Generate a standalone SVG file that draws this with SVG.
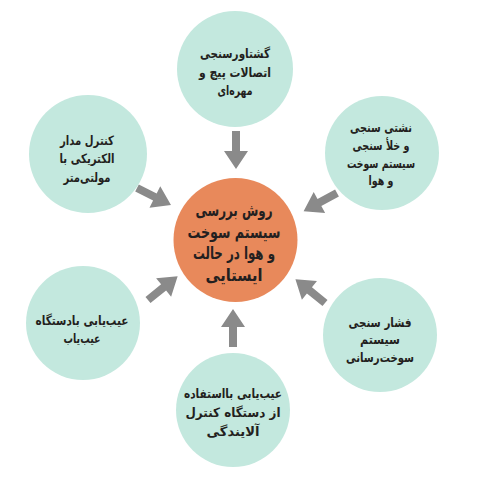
<svg xmlns="http://www.w3.org/2000/svg" width="499" height="484" viewBox="0 0 499 484">
<style>
.n{fill:#c3e8de}
.c{fill:#e8895b}
.t{font-family:"DejaVu Sans",sans-serif;font-weight:bold;font-size:13px;fill:#231f20;text-anchor:middle}
.tc{font-family:"DejaVu Sans",sans-serif;font-weight:bold;font-size:17px;fill:#231f20;text-anchor:middle}
.a{fill:#8a8a8a}
</style>
<defs>
<polygon id="arr" points="0,-4 20,-4 20,-12 38,0 20,12 20,4 0,4"/>
</defs>
<rect width="499" height="484" fill="#ffffff"/>
<g id="connectors" class="a">
<use href="#arr" transform="translate(236,131) rotate(90)"/>
<use href="#arr" transform="translate(233,347) rotate(-90)"/>
<use href="#arr" transform="translate(137,188) rotate(26.6)"/>
<use href="#arr" transform="translate(337,193) rotate(151.5)"/>
<use href="#arr" transform="translate(148,300) rotate(-38.7)"/>
<use href="#arr" transform="translate(325,303) rotate(-141.1)"/>
</g>
<g id="center">
<circle class="c" cx="235.5" cy="240" r="62"/>
<text class="tc" x="234" y="216" textLength="77" lengthAdjust="spacingAndGlyphs">روش بررسی</text>
<text class="tc" x="234" y="238" textLength="93" lengthAdjust="spacingAndGlyphs">سیستم سوخت</text>
<text class="tc" x="234" y="259" textLength="82" lengthAdjust="spacingAndGlyphs">و هوا در حالت</text>
<text class="tc" x="234" y="281" textLength="57" lengthAdjust="spacingAndGlyphs">ایستایی</text>
</g>
<g id="top">
<circle class="n" cx="235" cy="69" r="58"/>
<text class="t" x="235" y="58" textLength="70" lengthAdjust="spacingAndGlyphs">گشتاورسنجی</text>
<text class="t" x="235" y="77" textLength="72" lengthAdjust="spacingAndGlyphs">اتصالات پیچ و</text>
<text class="t" x="235" y="95" textLength="35" lengthAdjust="spacingAndGlyphs">مهره‌ای</text>
</g>
<g id="left-top">
<circle class="n" cx="88" cy="154" r="59"/>
<text class="t" x="87" y="145" textLength="54" lengthAdjust="spacingAndGlyphs">کنترل مدار</text>
<text class="t" x="87" y="163" textLength="55" lengthAdjust="spacingAndGlyphs">الکتریکی با</text>
<text class="t" x="87" y="182" textLength="47" lengthAdjust="spacingAndGlyphs">مولتی‌متر</text>
</g>
<g id="right-top">
<circle class="n" cx="382" cy="153" r="57"/>
<text class="t" x="381" y="132" textLength="62" lengthAdjust="spacingAndGlyphs">نشتی سنجی</text>
<text class="t" x="381" y="150" textLength="57" lengthAdjust="spacingAndGlyphs">و خلأ سنجی</text>
<text class="t" x="381" y="168" textLength="68" lengthAdjust="spacingAndGlyphs">سیستم سوخت</text>
<text class="t" x="381" y="185" textLength="25" lengthAdjust="spacingAndGlyphs">و هوا</text>
</g>
<g id="left-bottom">
<circle class="n" cx="83" cy="323" r="57"/>
<text class="t" x="82" y="325" textLength="93" lengthAdjust="spacingAndGlyphs">عیب‌یابی بادستگاه</text>
<text class="t" x="82" y="343" textLength="37" lengthAdjust="spacingAndGlyphs">عیب‌یاب</text>
</g>
<g id="right-bottom">
<circle class="n" cx="380" cy="335" r="57"/>
<text class="t" x="380" y="327" textLength="63" lengthAdjust="spacingAndGlyphs">فشار سنجی</text>
<text class="t" x="380" y="344" textLength="40" lengthAdjust="spacingAndGlyphs">سیستم</text>
<text class="t" x="380" y="362" textLength="68" lengthAdjust="spacingAndGlyphs">سوخت‌رسانی</text>
</g>
<g id="bottom">
<circle class="n" cx="233" cy="410" r="57"/>
<text class="t" x="233" y="398" textLength="98" lengthAdjust="spacingAndGlyphs">عیب‌یابی بااستفاده</text>
<text class="t" x="233" y="417" textLength="95" lengthAdjust="spacingAndGlyphs">از دستگاه کنترل</text>
<text class="t" x="233" y="436" textLength="53" lengthAdjust="spacingAndGlyphs">آلایندگی</text>
</g>
</svg>
